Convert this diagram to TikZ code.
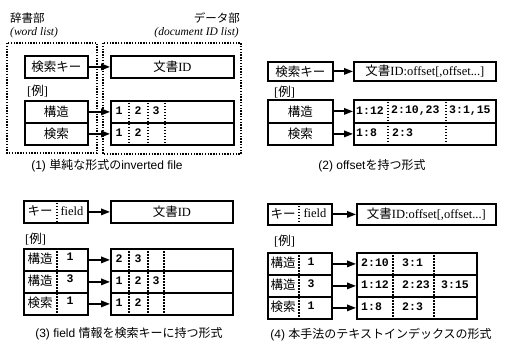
\documentclass[tikz,border=0pt]{standalone}
\usepackage{fontspec}
\setmainfont{Liberation Serif}
\setsansfont{Liberation Sans}
\setmonofont{Liberation Mono}
\newfontfamily\jp{Noto Sans CJK JP}
\usetikzlibrary{arrows.meta}
\newcommand\bx[6]{\node[box, minimum width={(#4-#2)*1pt}, minimum height={(#5-#3)*1pt}] (#1) at (#2,#3) {#6};}
\begin{document}
\begin{tikzpicture}[x=1pt,y=-1pt,
  box/.style={draw, line width=1.8pt, inner sep=1pt, anchor=north west, font=\fontsize{12.5}{12.5}\selectfont},
  arr/.style={line width=1.8pt, -{Triangle[length=9pt,width=6.5pt]}},
  sep/.style={line width=1.3pt, dash pattern=on 1.5pt off 1.5pt},
  grp/.style={line width=1.5pt, dash pattern=on 1.4pt off 1.4pt},
  num/.style={font=\fontsize{11.5}{11.5}\selectfont\ttfamily\bfseries, inner sep=0pt},
  txt/.style={font=\fontsize{12.5}{12.5}\selectfont, inner sep=0pt},
  capt/.style={font=\fontsize{12}{12}\selectfont\sffamily, inner sep=0pt},
  lab/.style={font=\fontsize{11.5}{11.5}\selectfont, inner sep=0pt}]
\useasboundingbox (0,0) rectangle (508,347);

% ===== Panel 1 =====
\node[lab, anchor=west] (h1a) at (10,18) {\jp 辞書部};
\node[lab, anchor=west] (h1b) at (10,33) {\itshape (word list)};
\node[lab, anchor=east] (h1c) at (240,18) {\jp データ部};
\node[lab, anchor=east] (h1d) at (239,33) {\itshape (document ID list)};
\draw[grp] (7,43) rectangle (97,153);
\draw[grp] (103,43) rectangle (241,154);
\bx{k1}{24}{55}{87}{77}{\jp 検索キー}
\bx{d1}{110}{55}{233}{77}{{\jp 文書}ID}
\draw[arr] (k1) -- (d1);
\node[txt, anchor=west] (ex1) at (27,91) {[{\jp 例}]};
\bx{l1a}{24}{100}{87}{122}{\jp 構造}
\bx{l1b}{24}{122}{87}{144}{\jp 検索}
\bx{r1a}{110}{100}{233}{122}{}
\bx{r1b}{110}{122}{233}{144}{}
\foreach \x in {129,148,165} \draw[sep] (\x,100) -- (\x,144);
\node[num] (n1a1) at (119,111) {1};
\node[num] (n1a2) at (138,111) {2};
\node[num] (n1a3) at (156,111) {3};
\node[num] (n1b1) at (119,133) {1};
\node[num] (n1b2) at (138,133) {2};
\draw[arr] (l1a) -- (r1a);
\draw[arr] (l1b) -- (r1b);
\node[capt] (c1) at (107,166) {(1) {\jp 単純な形式の}inverted file};

% ===== Panel 2 =====
\bx{k2}{267}{61}{332}{80}{\jp 検索キー}
\bx{d2}{353}{61}{495}{80}{{\jp 文書}ID:offset[,offset...]}
\draw[arr] (k2) -- (d2);
\node[txt, anchor=west] (ex2) at (274,92) {[{\jp 例}]};
\bx{l2a}{267}{99}{332}{122}{\jp 構造}
\bx{l2b}{267}{122}{332}{144}{\jp 検索}
\bx{r2a}{353}{99}{495}{122}{}
\bx{r2b}{353}{122}{495}{144}{}
\foreach \x in {388,446} \draw[sep] (\x,99) -- (\x,144);
\node[num, anchor=west] (n2a1) at (356,110.5) {1:12};
\node[num, anchor=west] (n2a2) at (391,110.5) {2:10,23};
\node[num, anchor=west] (n2a3) at (449,110.5) {3:1,15};
\node[num, anchor=west] (n2b1) at (356,133) {1:8};
\node[num, anchor=west] (n2b2) at (392,133) {2:3};
\draw[arr] (l2a) -- (r2a);
\draw[arr] (l2b) -- (r2b);
\node[capt] (c2) at (372,166) {(2) offset{\jp を持つ形式}};

% ===== Panel 3 =====
\bx{k3}{23}{200}{87}{222}{}
\draw[sep] (57,200) -- (57,222);
\node[txt] (k3a) at (40,211) {\jp キー};
\node[txt] (k3b) at (72,211) {field};
\bx{d3}{110}{200}{232}{222}{{\jp 文書}ID}
\draw[arr] (k3) -- (d3);
\node[txt, anchor=west] (ex3) at (25,239) {[{\jp 例}]};
\bx{l3a}{23}{248}{87}{270}{}
\bx{l3b}{23}{270}{87}{292}{}
\bx{l3c}{23}{292}{87}{314}{}
\draw[sep] (57,248) -- (57,314);
\node[txt] (t3a) at (40,259) {\jp 構造};
\node[txt] (t3b) at (40,281) {\jp 構造};
\node[txt] (t3c) at (40,303) {\jp 検索};
\node[num] (f3a) at (70,257) {1};
\node[num] (f3b) at (70,279) {3};
\node[num] (f3c) at (70,301) {1};
\bx{r3a}{110}{248}{232}{270}{}
\bx{r3b}{110}{270}{232}{292}{}
\bx{r3c}{110}{292}{232}{314}{}
\foreach \x in {129,148,164} \draw[sep] (\x,248) -- (\x,314);
\node[num] (n3a1) at (119,259) {2};
\node[num] (n3a2) at (138,259) {3};
\node[num] (n3b1) at (119,281) {1};
\node[num] (n3b2) at (138,281) {2};
\node[num] (n3b3) at (156,281) {3};
\node[num] (n3c1) at (119,303) {1};
\node[num] (n3c2) at (138,303) {2};
\draw[arr] (l3a) -- (r3a);
\draw[arr] (l3b) -- (r3b);
\draw[arr] (l3c) -- (r3c);
\node[capt] (c3) at (129,334) {(3) field {\jp 情報を検索キーに持つ形式}};

% ===== Panel 4 =====
\bx{k4}{267}{203}{331}{224}{}
\draw[sep] (299,203) -- (299,224);
\node[txt] (k4a) at (283,213.5) {\jp キー};
\node[txt] (k4b) at (315,213.5) {field};
\bx{d4}{356}{203}{495}{224}{{\jp 文書}ID:offset[,offset...]}
\draw[arr] (k4) -- (d4);
\node[txt, anchor=west] (ex4) at (274,241) {[{\jp 例}]};
\bx{l4a}{267}{252}{331}{274}{}
\bx{l4b}{267}{274}{331}{296}{}
\bx{l4c}{267}{296}{331}{318}{}
\draw[sep] (299,252) -- (299,318);
\node[txt] (t4a) at (283,263) {\jp 構造};
\node[txt] (t4b) at (283,285) {\jp 構造};
\node[txt] (t4c) at (283,307) {\jp 検索};
\node[num] (f4a) at (311,262) {1};
\node[num] (f4b) at (311,284) {3};
\node[num] (f4c) at (311,306) {1};
\bx{r4a}{356}{252}{476}{274}{}
\bx{r4b}{356}{274}{476}{296}{}
\bx{r4c}{356}{296}{476}{318}{}
\foreach \x in {393,434} \draw[sep] (\x,252) -- (\x,318);
\node[num, anchor=west] (n4a1) at (361,263) {2:10};
\node[num, anchor=west] (n4a2) at (402,263) {3:1};
\node[num, anchor=west] (n4b1) at (361,285) {1:12};
\node[num, anchor=west] (n4b2) at (402,285) {2:23};
\node[num, anchor=west] (n4b3) at (441,285) {3:15};
\node[num, anchor=west] (n4c1) at (361,307) {1:8};
\node[num, anchor=west] (n4c2) at (402,307) {2:3};
\draw[arr] (l4a) -- (r4a);
\draw[arr] (l4b) -- (r4b);
\draw[arr] (l4c) -- (r4c);
\node[capt] (c4) at (381,335) {(4) {\jp 本手法のテキストインデックスの形式}};
\end{tikzpicture}
\end{document}
